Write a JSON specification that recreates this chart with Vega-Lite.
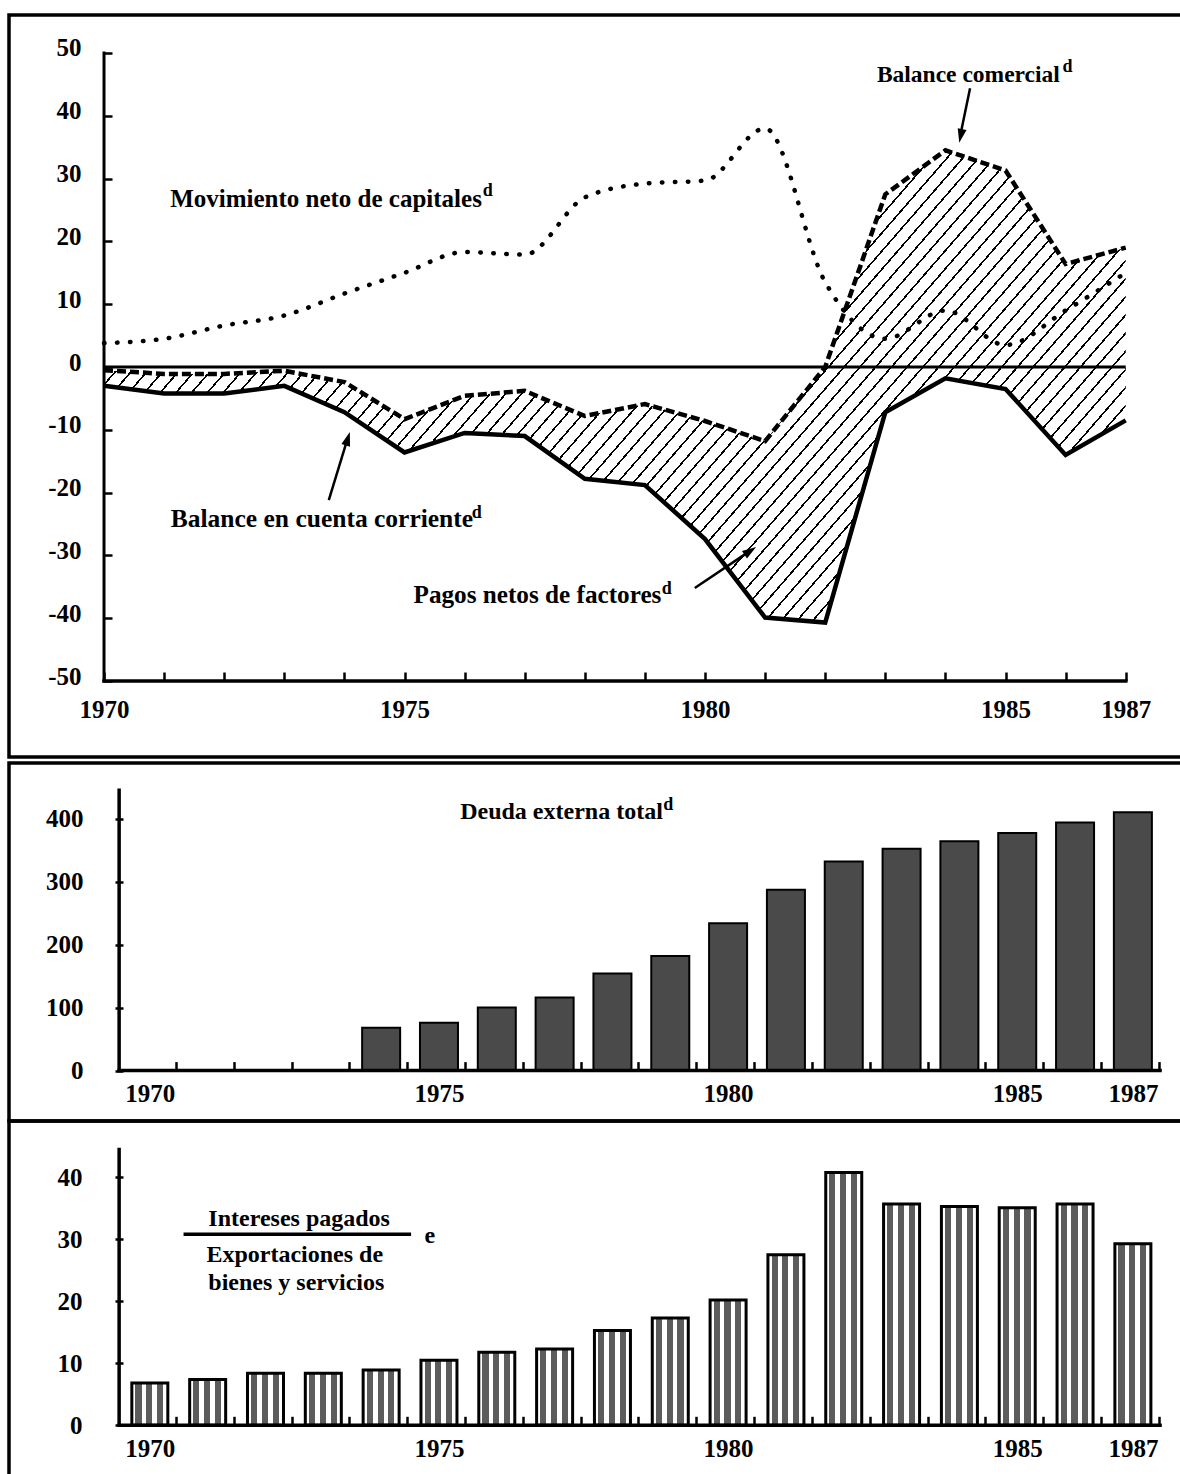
{
  "$schema": "https://vega.github.io/schema/vega-lite/v6.json",
  "padding": {"left": 7, "top": 13, "right": 0, "bottom": 0},
  "background": "white",
  "spacing": 6,
  "bounds": "flush",
  "config": {
    "view": {"stroke": "black", "strokeWidth": 3.5},
    "axis": {"domain": false, "grid": false, "labelFont": "Liberation Serif", "labelFontSize": 25, "labelFontWeight": "bold", "labelColor": "black", "tickColor": "black", "tickWidth": 2.5, "labelFlush": false, "labelOverlap": false, "labelBound": false},
    "text": {"font": "Liberation Serif", "fontWeight": "bold", "color": "black"}
  },
  "datasets": {
    "balance": [
      {"year": 1970, "capitales": 3.8, "comercial": -0.5, "corriente": -3.0},
      {"year": 1971, "capitales": 4.5, "comercial": -1.1, "corriente": -4.2},
      {"year": 1972, "capitales": 6.6, "comercial": -1.1, "corriente": -4.2},
      {"year": 1973, "capitales": 8.2, "comercial": -0.6, "corriente": -3.0},
      {"year": 1974, "capitales": 11.7, "comercial": -2.4, "corriente": -7.2},
      {"year": 1975, "capitales": 15.0, "comercial": -8.3, "corriente": -13.6},
      {"year": 1976, "capitales": 18.3, "comercial": -4.6, "corriente": -10.5},
      {"year": 1977, "capitales": 17.9, "comercial": -3.8, "corriente": -11.0},
      {"year": 1978, "capitales": 27.0, "comercial": -7.8, "corriente": -17.8},
      {"year": 1979, "capitales": 29.2, "comercial": -5.9, "corriente": -18.8},
      {"year": 1980, "capitales": 29.7, "comercial": -8.6, "corriente": -27.4},
      {"year": 1981, "capitales": 38.0, "comercial": -11.8, "corriente": -39.9},
      {"year": 1982, "capitales": 13.5, "comercial": 0.0, "corriente": -40.7},
      {"year": 1983, "capitales": 4.5, "comercial": 27.5, "corriente": -7.2},
      {"year": 1984, "capitales": 9.0, "comercial": 34.5, "corriente": -1.8},
      {"year": 1985, "capitales": 3.5, "comercial": 31.3, "corriente": -3.5},
      {"year": 1986, "capitales": 9.0, "comercial": 16.4, "corriente": -14.0},
      {"year": 1987, "capitales": 15.0, "comercial": 19.0, "corriente": -8.5}
    ],
    "deuda": [
      {"year": 1974, "deuda": 68},
      {"year": 1975, "deuda": 76},
      {"year": 1976, "deuda": 100},
      {"year": 1977, "deuda": 116},
      {"year": 1978, "deuda": 154},
      {"year": 1979, "deuda": 182},
      {"year": 1980, "deuda": 234},
      {"year": 1981, "deuda": 287},
      {"year": 1982, "deuda": 332},
      {"year": 1983, "deuda": 352},
      {"year": 1984, "deuda": 364},
      {"year": 1985, "deuda": 377},
      {"year": 1986, "deuda": 394},
      {"year": 1987, "deuda": 410}
    ],
    "intereses": [
      {"year": 1970, "ratio": 6.8},
      {"year": 1971, "ratio": 7.4},
      {"year": 1972, "ratio": 8.4},
      {"year": 1973, "ratio": 8.4},
      {"year": 1974, "ratio": 8.9},
      {"year": 1975, "ratio": 10.5},
      {"year": 1976, "ratio": 11.8},
      {"year": 1977, "ratio": 12.3},
      {"year": 1978, "ratio": 15.3},
      {"year": 1979, "ratio": 17.3},
      {"year": 1980, "ratio": 20.2},
      {"year": 1981, "ratio": 27.5},
      {"year": 1982, "ratio": 40.8},
      {"year": 1983, "ratio": 35.7},
      {"year": 1984, "ratio": 35.3},
      {"year": 1985, "ratio": 35.1},
      {"year": 1986, "ratio": 35.7},
      {"year": 1987, "ratio": 29.3}
    ]
  },
  "vconcat": [
    {
      "width": 1180,
      "height": 742,
      "layer": [
        {
          "data": {"name": "balance"},
          "mark": {"type": "area", "fill": {"gradient": "linear", "x1": 0, "y1": 0, "x2": 1.207, "y2": 0.485, "stops": [
            {"offset": 0, "color": "#fff"},
            {"offset": 0.0095, "color": "#fff"}, {"offset": 0.0095, "color": "#000"}, {"offset": 0.011, "color": "#000"}, {"offset": 0.011, "color": "#fff"},
            {"offset": 0.0205, "color": "#fff"}, {"offset": 0.0205, "color": "#000"}, {"offset": 0.022, "color": "#000"}, {"offset": 0.022, "color": "#fff"},
            {"offset": 0.0315, "color": "#fff"}, {"offset": 0.0315, "color": "#000"}, {"offset": 0.033, "color": "#000"}, {"offset": 0.033, "color": "#fff"},
            {"offset": 0.0425, "color": "#fff"}, {"offset": 0.0425, "color": "#000"}, {"offset": 0.044, "color": "#000"}, {"offset": 0.044, "color": "#fff"},
            {"offset": 0.0535, "color": "#fff"}, {"offset": 0.0535, "color": "#000"}, {"offset": 0.055, "color": "#000"}, {"offset": 0.055, "color": "#fff"},
            {"offset": 0.0645, "color": "#fff"}, {"offset": 0.0645, "color": "#000"}, {"offset": 0.066, "color": "#000"}, {"offset": 0.066, "color": "#fff"},
            {"offset": 0.0755, "color": "#fff"}, {"offset": 0.0755, "color": "#000"}, {"offset": 0.077, "color": "#000"}, {"offset": 0.077, "color": "#fff"},
            {"offset": 0.0865, "color": "#fff"}, {"offset": 0.0865, "color": "#000"}, {"offset": 0.088, "color": "#000"}, {"offset": 0.088, "color": "#fff"},
            {"offset": 0.0975, "color": "#fff"}, {"offset": 0.0975, "color": "#000"}, {"offset": 0.099, "color": "#000"}, {"offset": 0.099, "color": "#fff"},
            {"offset": 0.1085, "color": "#fff"}, {"offset": 0.1085, "color": "#000"}, {"offset": 0.11, "color": "#000"}, {"offset": 0.11, "color": "#fff"},
            {"offset": 0.1195, "color": "#fff"}, {"offset": 0.1195, "color": "#000"}, {"offset": 0.121, "color": "#000"}, {"offset": 0.121, "color": "#fff"},
            {"offset": 0.1305, "color": "#fff"}, {"offset": 0.1305, "color": "#000"}, {"offset": 0.132, "color": "#000"}, {"offset": 0.132, "color": "#fff"},
            {"offset": 0.1415, "color": "#fff"}, {"offset": 0.1415, "color": "#000"}, {"offset": 0.143, "color": "#000"}, {"offset": 0.143, "color": "#fff"},
            {"offset": 0.1525, "color": "#fff"}, {"offset": 0.1525, "color": "#000"}, {"offset": 0.154, "color": "#000"}, {"offset": 0.154, "color": "#fff"},
            {"offset": 0.1635, "color": "#fff"}, {"offset": 0.1635, "color": "#000"}, {"offset": 0.165, "color": "#000"}, {"offset": 0.165, "color": "#fff"},
            {"offset": 0.1745, "color": "#fff"}, {"offset": 0.1745, "color": "#000"}, {"offset": 0.176, "color": "#000"}, {"offset": 0.176, "color": "#fff"},
            {"offset": 0.1855, "color": "#fff"}, {"offset": 0.1855, "color": "#000"}, {"offset": 0.187, "color": "#000"}, {"offset": 0.187, "color": "#fff"},
            {"offset": 0.1965, "color": "#fff"}, {"offset": 0.1965, "color": "#000"}, {"offset": 0.198, "color": "#000"}, {"offset": 0.198, "color": "#fff"},
            {"offset": 0.2075, "color": "#fff"}, {"offset": 0.2075, "color": "#000"}, {"offset": 0.209, "color": "#000"}, {"offset": 0.209, "color": "#fff"},
            {"offset": 0.2185, "color": "#fff"}, {"offset": 0.2185, "color": "#000"}, {"offset": 0.22, "color": "#000"}, {"offset": 0.22, "color": "#fff"},
            {"offset": 0.2295, "color": "#fff"}, {"offset": 0.2295, "color": "#000"}, {"offset": 0.231, "color": "#000"}, {"offset": 0.231, "color": "#fff"},
            {"offset": 0.2405, "color": "#fff"}, {"offset": 0.2405, "color": "#000"}, {"offset": 0.242, "color": "#000"}, {"offset": 0.242, "color": "#fff"},
            {"offset": 0.2515, "color": "#fff"}, {"offset": 0.2515, "color": "#000"}, {"offset": 0.253, "color": "#000"}, {"offset": 0.253, "color": "#fff"},
            {"offset": 0.2625, "color": "#fff"}, {"offset": 0.2625, "color": "#000"}, {"offset": 0.264, "color": "#000"}, {"offset": 0.264, "color": "#fff"},
            {"offset": 0.2735, "color": "#fff"}, {"offset": 0.2735, "color": "#000"}, {"offset": 0.275, "color": "#000"}, {"offset": 0.275, "color": "#fff"},
            {"offset": 0.2845, "color": "#fff"}, {"offset": 0.2845, "color": "#000"}, {"offset": 0.286, "color": "#000"}, {"offset": 0.286, "color": "#fff"},
            {"offset": 0.2955, "color": "#fff"}, {"offset": 0.2955, "color": "#000"}, {"offset": 0.297, "color": "#000"}, {"offset": 0.297, "color": "#fff"},
            {"offset": 0.3065, "color": "#fff"}, {"offset": 0.3065, "color": "#000"}, {"offset": 0.308, "color": "#000"}, {"offset": 0.308, "color": "#fff"},
            {"offset": 0.3175, "color": "#fff"}, {"offset": 0.3175, "color": "#000"}, {"offset": 0.319, "color": "#000"}, {"offset": 0.319, "color": "#fff"},
            {"offset": 0.3285, "color": "#fff"}, {"offset": 0.3285, "color": "#000"}, {"offset": 0.33, "color": "#000"}, {"offset": 0.33, "color": "#fff"},
            {"offset": 0.3395, "color": "#fff"}, {"offset": 0.3395, "color": "#000"}, {"offset": 0.341, "color": "#000"}, {"offset": 0.341, "color": "#fff"},
            {"offset": 0.3505, "color": "#fff"}, {"offset": 0.3505, "color": "#000"}, {"offset": 0.352, "color": "#000"}, {"offset": 0.352, "color": "#fff"},
            {"offset": 0.3615, "color": "#fff"}, {"offset": 0.3615, "color": "#000"}, {"offset": 0.363, "color": "#000"}, {"offset": 0.363, "color": "#fff"},
            {"offset": 0.3725, "color": "#fff"}, {"offset": 0.3725, "color": "#000"}, {"offset": 0.374, "color": "#000"}, {"offset": 0.374, "color": "#fff"},
            {"offset": 0.3835, "color": "#fff"}, {"offset": 0.3835, "color": "#000"}, {"offset": 0.385, "color": "#000"}, {"offset": 0.385, "color": "#fff"},
            {"offset": 0.3945, "color": "#fff"}, {"offset": 0.3945, "color": "#000"}, {"offset": 0.396, "color": "#000"}, {"offset": 0.396, "color": "#fff"},
            {"offset": 0.4055, "color": "#fff"}, {"offset": 0.4055, "color": "#000"}, {"offset": 0.407, "color": "#000"}, {"offset": 0.407, "color": "#fff"},
            {"offset": 0.4165, "color": "#fff"}, {"offset": 0.4165, "color": "#000"}, {"offset": 0.418, "color": "#000"}, {"offset": 0.418, "color": "#fff"},
            {"offset": 0.4275, "color": "#fff"}, {"offset": 0.4275, "color": "#000"}, {"offset": 0.429, "color": "#000"}, {"offset": 0.429, "color": "#fff"},
            {"offset": 0.4385, "color": "#fff"}, {"offset": 0.4385, "color": "#000"}, {"offset": 0.44, "color": "#000"}, {"offset": 0.44, "color": "#fff"},
            {"offset": 0.4495, "color": "#fff"}, {"offset": 0.4495, "color": "#000"}, {"offset": 0.451, "color": "#000"}, {"offset": 0.451, "color": "#fff"},
            {"offset": 0.4605, "color": "#fff"}, {"offset": 0.4605, "color": "#000"}, {"offset": 0.462, "color": "#000"}, {"offset": 0.462, "color": "#fff"},
            {"offset": 0.4715, "color": "#fff"}, {"offset": 0.4715, "color": "#000"}, {"offset": 0.473, "color": "#000"}, {"offset": 0.473, "color": "#fff"},
            {"offset": 0.4825, "color": "#fff"}, {"offset": 0.4825, "color": "#000"}, {"offset": 0.484, "color": "#000"}, {"offset": 0.484, "color": "#fff"},
            {"offset": 0.4935, "color": "#fff"}, {"offset": 0.4935, "color": "#000"}, {"offset": 0.495, "color": "#000"}, {"offset": 0.495, "color": "#fff"},
            {"offset": 0.5045, "color": "#fff"}, {"offset": 0.5045, "color": "#000"}, {"offset": 0.506, "color": "#000"}, {"offset": 0.506, "color": "#fff"},
            {"offset": 0.5155, "color": "#fff"}, {"offset": 0.5155, "color": "#000"}, {"offset": 0.517, "color": "#000"}, {"offset": 0.517, "color": "#fff"},
            {"offset": 0.5265, "color": "#fff"}, {"offset": 0.5265, "color": "#000"}, {"offset": 0.528, "color": "#000"}, {"offset": 0.528, "color": "#fff"},
            {"offset": 0.5375, "color": "#fff"}, {"offset": 0.5375, "color": "#000"}, {"offset": 0.539, "color": "#000"}, {"offset": 0.539, "color": "#fff"},
            {"offset": 0.5485, "color": "#fff"}, {"offset": 0.5485, "color": "#000"}, {"offset": 0.55, "color": "#000"}, {"offset": 0.55, "color": "#fff"},
            {"offset": 0.5595, "color": "#fff"}, {"offset": 0.5595, "color": "#000"}, {"offset": 0.561, "color": "#000"}, {"offset": 0.561, "color": "#fff"},
            {"offset": 0.5705, "color": "#fff"}, {"offset": 0.5705, "color": "#000"}, {"offset": 0.572, "color": "#000"}, {"offset": 0.572, "color": "#fff"},
            {"offset": 0.5815, "color": "#fff"}, {"offset": 0.5815, "color": "#000"}, {"offset": 0.583, "color": "#000"}, {"offset": 0.583, "color": "#fff"},
            {"offset": 0.5925, "color": "#fff"}, {"offset": 0.5925, "color": "#000"}, {"offset": 0.594, "color": "#000"}, {"offset": 0.594, "color": "#fff"},
            {"offset": 0.6035, "color": "#fff"}, {"offset": 0.6035, "color": "#000"}, {"offset": 0.605, "color": "#000"}, {"offset": 0.605, "color": "#fff"},
            {"offset": 0.6145, "color": "#fff"}, {"offset": 0.6145, "color": "#000"}, {"offset": 0.616, "color": "#000"}, {"offset": 0.616, "color": "#fff"},
            {"offset": 0.6255, "color": "#fff"}, {"offset": 0.6255, "color": "#000"}, {"offset": 0.627, "color": "#000"}, {"offset": 0.627, "color": "#fff"},
            {"offset": 0.6365, "color": "#fff"}, {"offset": 0.6365, "color": "#000"}, {"offset": 0.638, "color": "#000"}, {"offset": 0.638, "color": "#fff"},
            {"offset": 0.6475, "color": "#fff"}, {"offset": 0.6475, "color": "#000"}, {"offset": 0.649, "color": "#000"}, {"offset": 0.649, "color": "#fff"},
            {"offset": 0.6585, "color": "#fff"}, {"offset": 0.6585, "color": "#000"}, {"offset": 0.66, "color": "#000"}, {"offset": 0.66, "color": "#fff"},
            {"offset": 0.6695, "color": "#fff"}, {"offset": 0.6695, "color": "#000"}, {"offset": 0.671, "color": "#000"}, {"offset": 0.671, "color": "#fff"},
            {"offset": 0.6805, "color": "#fff"}, {"offset": 0.6805, "color": "#000"}, {"offset": 0.682, "color": "#000"}, {"offset": 0.682, "color": "#fff"},
            {"offset": 0.6915, "color": "#fff"}, {"offset": 0.6915, "color": "#000"}, {"offset": 0.693, "color": "#000"}, {"offset": 0.693, "color": "#fff"},
            {"offset": 0.7025, "color": "#fff"}, {"offset": 0.7025, "color": "#000"}, {"offset": 0.704, "color": "#000"}, {"offset": 0.704, "color": "#fff"},
            {"offset": 0.7135, "color": "#fff"}, {"offset": 0.7135, "color": "#000"}, {"offset": 0.715, "color": "#000"}, {"offset": 0.715, "color": "#fff"},
            {"offset": 0.7245, "color": "#fff"}, {"offset": 0.7245, "color": "#000"}, {"offset": 0.726, "color": "#000"}, {"offset": 0.726, "color": "#fff"},
            {"offset": 0.7355, "color": "#fff"}, {"offset": 0.7355, "color": "#000"}, {"offset": 0.737, "color": "#000"}, {"offset": 0.737, "color": "#fff"},
            {"offset": 0.7465, "color": "#fff"}, {"offset": 0.7465, "color": "#000"}, {"offset": 0.748, "color": "#000"}, {"offset": 0.748, "color": "#fff"},
            {"offset": 0.7575, "color": "#fff"}, {"offset": 0.7575, "color": "#000"}, {"offset": 0.759, "color": "#000"}, {"offset": 0.759, "color": "#fff"},
            {"offset": 0.7685, "color": "#fff"}, {"offset": 0.7685, "color": "#000"}, {"offset": 0.77, "color": "#000"}, {"offset": 0.77, "color": "#fff"},
            {"offset": 0.7795, "color": "#fff"}, {"offset": 0.7795, "color": "#000"}, {"offset": 0.781, "color": "#000"}, {"offset": 0.781, "color": "#fff"},
            {"offset": 0.7905, "color": "#fff"}, {"offset": 0.7905, "color": "#000"}, {"offset": 0.792, "color": "#000"}, {"offset": 0.792, "color": "#fff"},
            {"offset": 0.8015, "color": "#fff"}, {"offset": 0.8015, "color": "#000"}, {"offset": 0.803, "color": "#000"}, {"offset": 0.803, "color": "#fff"},
            {"offset": 0.8125, "color": "#fff"}, {"offset": 0.8125, "color": "#000"}, {"offset": 0.814, "color": "#000"}, {"offset": 0.814, "color": "#fff"},
            {"offset": 0.8235, "color": "#fff"}, {"offset": 0.8235, "color": "#000"}, {"offset": 0.825, "color": "#000"}, {"offset": 0.825, "color": "#fff"},
            {"offset": 0.8345, "color": "#fff"}, {"offset": 0.8345, "color": "#000"}, {"offset": 0.836, "color": "#000"}, {"offset": 0.836, "color": "#fff"},
            {"offset": 0.8455, "color": "#fff"}, {"offset": 0.8455, "color": "#000"}, {"offset": 0.847, "color": "#000"}, {"offset": 0.847, "color": "#fff"},
            {"offset": 0.8565, "color": "#fff"}, {"offset": 0.8565, "color": "#000"}, {"offset": 0.858, "color": "#000"}, {"offset": 0.858, "color": "#fff"},
            {"offset": 0.8675, "color": "#fff"}, {"offset": 0.8675, "color": "#000"}, {"offset": 0.869, "color": "#000"}, {"offset": 0.869, "color": "#fff"},
            {"offset": 0.8785, "color": "#fff"}, {"offset": 0.8785, "color": "#000"}, {"offset": 0.88, "color": "#000"}, {"offset": 0.88, "color": "#fff"},
            {"offset": 0.8895, "color": "#fff"}, {"offset": 0.8895, "color": "#000"}, {"offset": 0.891, "color": "#000"}, {"offset": 0.891, "color": "#fff"},
            {"offset": 0.9005, "color": "#fff"}, {"offset": 0.9005, "color": "#000"}, {"offset": 0.902, "color": "#000"}, {"offset": 0.902, "color": "#fff"},
            {"offset": 0.9115, "color": "#fff"}, {"offset": 0.9115, "color": "#000"}, {"offset": 0.913, "color": "#000"}, {"offset": 0.913, "color": "#fff"},
            {"offset": 0.9225, "color": "#fff"}, {"offset": 0.9225, "color": "#000"}, {"offset": 0.924, "color": "#000"}, {"offset": 0.924, "color": "#fff"},
            {"offset": 0.9335, "color": "#fff"}, {"offset": 0.9335, "color": "#000"}, {"offset": 0.935, "color": "#000"}, {"offset": 0.935, "color": "#fff"},
            {"offset": 0.9445, "color": "#fff"}, {"offset": 0.9445, "color": "#000"}, {"offset": 0.946, "color": "#000"}, {"offset": 0.946, "color": "#fff"},
            {"offset": 0.9555, "color": "#fff"}, {"offset": 0.9555, "color": "#000"}, {"offset": 0.957, "color": "#000"}, {"offset": 0.957, "color": "#fff"},
            {"offset": 0.9665, "color": "#fff"}, {"offset": 0.9665, "color": "#000"}, {"offset": 0.968, "color": "#000"}, {"offset": 0.968, "color": "#fff"},
            {"offset": 0.9775, "color": "#fff"}, {"offset": 0.9775, "color": "#000"}, {"offset": 0.979, "color": "#000"}, {"offset": 0.979, "color": "#fff"},
            {"offset": 0.9885, "color": "#fff"}, {"offset": 0.9885, "color": "#000"}, {"offset": 0.99, "color": "#000"}, {"offset": 0.99, "color": "#fff"},
            {"offset": 1, "color": "#fff"}
          ]}},
          "encoding": {
            "x": {"field": "year", "type": "quantitative", "scale": {"domain": [1968.419, 1988.053], "nice": false, "zero": false},
                  "axis": {"title": null, "orient": "bottom", "offset": -76, "values": [1970, 1971, 1972, 1973, 1974, 1975, 1976, 1977, 1978, 1979, 1980, 1981, 1982, 1983, 1984, 1985, 1986, 1987], "tickSize": -9, "labelPadding": 25, "labelExpr": "(datum.value == 1970 || datum.value == 1975 || datum.value == 1980 || datum.value == 1985 || datum.value == 1987) ? '' + datum.value : ''"}},
            "y": {"field": "comercial", "type": "quantitative", "scale": {"domain": [-62.1, 56.05], "nice": false, "zero": false},
                  "axis": {"title": null, "orient": "left", "offset": -95, "values": [-50, -40, -30, -20, -10, 0, 10, 20, 30, 40, 50], "tickSize": -8, "labelPadding": 31, "labelOffset": -5, "labelExpr": "'' + datum.value"}},
            "y2": {"field": "corriente"}
          }
        },
        {
          "data": {"name": "balance"},
          "mark": {"type": "line", "stroke": "black", "strokeWidth": 4.5, "strokeDash": [9, 4]},
          "encoding": {"x": {"field": "year", "type": "quantitative"}, "y": {"field": "comercial", "type": "quantitative"}}
        },
        {
          "data": {"name": "balance"},
          "mark": {"type": "line", "stroke": "black", "strokeWidth": 4.5},
          "encoding": {"x": {"field": "year", "type": "quantitative"}, "y": {"field": "corriente", "type": "quantitative"}}
        },
        {
          "data": {"name": "balance"},
          "mark": {"type": "line", "stroke": "black", "strokeWidth": 4.5, "strokeDash": [0.5, 12.5], "strokeCap": "round", "interpolate": "monotone"},
          "encoding": {"x": {"field": "year", "type": "quantitative"}, "y": {"field": "capitales", "type": "quantitative"}}
        },
        {
          "data": {"values": [{}]},
          "mark": {"type": "rule", "stroke": "black", "strokeWidth": 3, "strokeCap": "square"},
          "encoding": {"x": {"datum": 1970}, "y": {"datum": -50}, "y2": {"datum": 50}}
        },
        {
          "data": {"values": [{}]},
          "mark": {"type": "rule", "stroke": "black", "strokeWidth": 3.5, "strokeCap": "square"},
          "encoding": {"x": {"datum": 1970}, "x2": {"datum": 1987}, "y": {"datum": -50}}
        },
        {
          "data": {"values": [{}]},
          "mark": {"type": "rule", "stroke": "black", "strokeWidth": 3},
          "encoding": {"x": {"datum": 1970}, "x2": {"datum": 1987}, "y": {"datum": 0}}
        },
        {
          "data": {"values": [{}]},
          "mark": {"type": "text", "text": "Movimiento neto de capitales", "align": "left", "baseline": "alphabetic", "fontSize": 25},
          "encoding": {"x": {"datum": 1971.1}, "y": {"datum": 25.5}}
        },
        {
          "data": {"values": [{}]},
          "mark": {"type": "text", "text": "d", "align": "left", "baseline": "alphabetic", "fontSize": 18},
          "encoding": {"x": {"datum": 1976.3}, "y": {"datum": 27.2}}
        },
        {
          "data": {"values": [{}]},
          "mark": {"type": "text", "text": "Balance comercial", "align": "left", "baseline": "alphabetic", "fontSize": 23.5},
          "encoding": {"x": {"datum": 1982.86}, "y": {"datum": 45.4}}
        },
        {
          "data": {"values": [{}]},
          "mark": {"type": "text", "text": "d", "align": "left", "baseline": "alphabetic", "fontSize": 18},
          "encoding": {"x": {"datum": 1985.95}, "y": {"datum": 47.0}}
        },
        {
          "data": {"values": [{}]},
          "mark": {"type": "text", "text": "Balance en cuenta corriente", "align": "left", "baseline": "alphabetic", "fontSize": 25.5},
          "encoding": {"x": {"datum": 1971.11}, "y": {"datum": -25.4}}
        },
        {
          "data": {"values": [{}]},
          "mark": {"type": "text", "text": "d", "align": "left", "baseline": "alphabetic", "fontSize": 18},
          "encoding": {"x": {"datum": 1976.12}, "y": {"datum": -24.0}}
        },
        {
          "data": {"values": [{}]},
          "mark": {"type": "text", "text": "Pagos netos de factores", "align": "left", "baseline": "alphabetic", "fontSize": 25.2},
          "encoding": {"x": {"datum": 1975.15}, "y": {"datum": -37.6}}
        },
        {
          "data": {"values": [{}]},
          "mark": {"type": "text", "text": "d", "align": "left", "baseline": "alphabetic", "fontSize": 18},
          "encoding": {"x": {"datum": 1979.28}, "y": {"datum": -36.15}}
        },
        {
          "data": {"values": [{}]},
          "mark": {"type": "rule", "stroke": "black", "strokeWidth": 2.5},
          "encoding": {"x": {"datum": 1984.41}, "y": {"datum": 44.4}, "x2": {"datum": 1984.25}, "y2": {"datum": 37.0}}
        },
        {
          "data": {"values": [{}]},
          "mark": {"type": "point", "shape": "M0,0L0.9,2.8L-0.9,2.8Z", "filled": true, "fill": "black", "strokeWidth": 0, "size": 100, "angle": 192, "opacity": 1},
          "encoding": {"x": {"datum": 1984.23}, "y": {"datum": 35.7}}
        },
        {
          "data": {"values": [{}]},
          "mark": {"type": "rule", "stroke": "black", "strokeWidth": 2.5},
          "encoding": {"x": {"datum": 1973.74}, "y": {"datum": -21.2}, "x2": {"datum": 1974.05}, "y2": {"datum": -11.5}}
        },
        {
          "data": {"values": [{}]},
          "mark": {"type": "point", "shape": "M0,0L0.9,2.8L-0.9,2.8Z", "filled": true, "fill": "black", "strokeWidth": 0, "size": 100, "angle": 17, "opacity": 1},
          "encoding": {"x": {"datum": 1974.09}, "y": {"datum": -10.35}}
        },
        {
          "data": {"values": [{}]},
          "mark": {"type": "rule", "stroke": "black", "strokeWidth": 2.5},
          "encoding": {"x": {"datum": 1979.83}, "y": {"datum": -35.2}, "x2": {"datum": 1980.7}, "y2": {"datum": -29.6}}
        },
        {
          "data": {"values": [{}]},
          "mark": {"type": "point", "shape": "M0,0L0.9,2.8L-0.9,2.8Z", "filled": true, "fill": "black", "strokeWidth": 0, "size": 100, "angle": 56, "opacity": 1},
          "encoding": {"x": {"datum": 1980.85}, "y": {"datum": -28.66}}
        }
      ]
    },
    {
      "spacing": 0,
      "bounds": "flush",
      "vconcat": [
        {
          "width": 1180,
          "height": 358,
          "layer": [
            {
              "data": {"name": "deuda"},
              "mark": {"type": "bar", "size": 38, "fill": "#4a4a4a", "stroke": "black", "strokeWidth": 2},
              "encoding": {
                "x": {"field": "year", "type": "quantitative", "scale": {"domain": [1967.651, 1987.884], "nice": false, "zero": false},
                      "axis": {"title": null, "orient": "bottom", "offset": -50.4, "values": [1970, 1975, 1980, 1985, 1987, 1970.45, 1971.45, 1972.45, 1973.45, 1974.45, 1975.45, 1976.45, 1977.45, 1978.45, 1979.45, 1980.45, 1981.45, 1982.45, 1983.45, 1984.45, 1985.45, 1986.45, 1987.45], "tickSize": -9, "labelPadding": 20, "tickOpacity": {"condition": {"test": "datum.value % 1 == 0", "value": 0}, "value": 1}, "labelExpr": "datum.value % 1 == 0 ? '' + datum.value : ''"}},
                "y": {"field": "deuda", "type": "quantitative", "scale": {"domain": [-80, 488.3], "nice": false, "zero": false},
                      "axis": {"title": null, "orient": "left", "offset": -106, "values": [0, 100, 200, 300, 400], "tickSize": -8, "labelPadding": 40, "labelExpr": "'' + datum.value"}}
              }
            },
            {
              "data": {"values": [{}]},
              "mark": {"type": "rule", "stroke": "black", "strokeWidth": 3.5, "strokeCap": "square"},
              "encoding": {"x": {"datum": 1969.469}, "y": {"datum": 0}, "y2": {"datum": 445}}
            },
            {
              "data": {"values": [{}]},
              "mark": {"type": "rule", "stroke": "black", "strokeWidth": 3.5, "strokeCap": "square"},
              "encoding": {"x": {"datum": 1969.469}, "x2": {"datum": 1987.47}, "y": {"datum": 0}}
            },
            {
              "data": {"values": [{}]},
              "mark": {"type": "text", "text": "Deuda externa total", "align": "left", "baseline": "alphabetic", "fontSize": 24},
              "encoding": {"x": {"datum": 1975.367}, "y": {"datum": 399.4}}
            },
            {
              "data": {"values": [{}]},
              "mark": {"type": "text", "text": "d", "align": "left", "baseline": "alphabetic", "fontSize": 18},
              "encoding": {"x": {"datum": 1978.88}, "y": {"datum": 413.7}}
            }
          ]
        },
        {
          "width": 1180,
          "height": 362,
          "layer": [
            {
              "data": {"name": "intereses"},
              "mark": {"type": "bar", "size": 36, "stroke": "black", "strokeWidth": 3, "fill": {"gradient": "linear", "x1": 0, "y1": 0, "x2": 1, "y2": 0, "stops": [
                {"offset": 0, "color": "#fff"}, {"offset": 0.1, "color": "#fff"}, {"offset": 0.1, "color": "#5c5c5c"}, {"offset": 0.27, "color": "#5c5c5c"}, {"offset": 0.27, "color": "#fff"},
                {"offset": 0.4, "color": "#fff"}, {"offset": 0.4, "color": "#5c5c5c"}, {"offset": 0.57, "color": "#5c5c5c"}, {"offset": 0.57, "color": "#fff"},
                {"offset": 0.7, "color": "#fff"}, {"offset": 0.7, "color": "#5c5c5c"}, {"offset": 0.87, "color": "#5c5c5c"}, {"offset": 0.87, "color": "#fff"},
                {"offset": 1, "color": "#fff"}
              ]}},
              "encoding": {
                "x": {"field": "year", "type": "quantitative", "scale": {"domain": [1967.651, 1987.884], "nice": false, "zero": false},
                      "axis": {"title": null, "orient": "bottom", "offset": -57.7, "values": [1970, 1975, 1980, 1985, 1987, 1970.45, 1971.45, 1972.45, 1973.45, 1974.45, 1975.45, 1976.45, 1977.45, 1978.45, 1979.45, 1980.45, 1981.45, 1982.45, 1983.45, 1984.45, 1985.45, 1986.45, 1987.45], "tickSize": -9, "labelPadding": 20, "tickOpacity": {"condition": {"test": "datum.value % 1 == 0", "value": 0}, "value": 1}, "labelExpr": "datum.value % 1 == 0 ? '' + datum.value : ''"}},
                "y": {"field": "ratio", "type": "quantitative", "scale": {"domain": [-9.32, 49.1], "nice": false, "zero": false},
                      "axis": {"title": null, "orient": "left", "offset": -106, "values": [0, 10, 20, 30, 40], "tickSize": -8, "labelPadding": 41, "labelExpr": "'' + datum.value"}}
              }
            },
            {
              "data": {"values": [{}]},
              "mark": {"type": "rule", "stroke": "black", "strokeWidth": 3.5, "strokeCap": "square"},
              "encoding": {"x": {"datum": 1969.469}, "y": {"datum": 0}, "y2": {"datum": 44.5}}
            },
            {
              "data": {"values": [{}]},
              "mark": {"type": "rule", "stroke": "black", "strokeWidth": 3.5, "strokeCap": "square"},
              "encoding": {"x": {"datum": 1969.469}, "x2": {"datum": 1987.47}, "y": {"datum": 0}}
            },
            {
              "data": {"values": [{}]},
              "mark": {"type": "text", "text": "Intereses pagados", "align": "left", "baseline": "alphabetic", "fontSize": 24},
              "encoding": {"x": {"datum": 1971.012}, "y": {"datum": 32.2}}
            },
            {
              "data": {"values": [{}]},
              "mark": {"type": "rule", "stroke": "black", "strokeWidth": 3.5},
              "encoding": {"x": {"datum": 1970.583}, "x2": {"datum": 1974.518}, "y": {"datum": 30.84}}
            },
            {
              "data": {"values": [{}]},
              "mark": {"type": "text", "text": "e", "align": "left", "baseline": "alphabetic", "fontSize": 24},
              "encoding": {"x": {"datum": 1974.75}, "y": {"datum": 29.4}}
            },
            {
              "data": {"values": [{}]},
              "mark": {"type": "text", "text": "Exportaciones de", "align": "left", "baseline": "alphabetic", "fontSize": 24},
              "encoding": {"x": {"datum": 1970.978}, "y": {"datum": 26.4}}
            },
            {
              "data": {"values": [{}]},
              "mark": {"type": "text", "text": "bienes y servicios", "align": "left", "baseline": "alphabetic", "fontSize": 24},
              "encoding": {"x": {"datum": 1971.012}, "y": {"datum": 21.8}}
            }
          ]
        }
      ]
    }
  ]
}
